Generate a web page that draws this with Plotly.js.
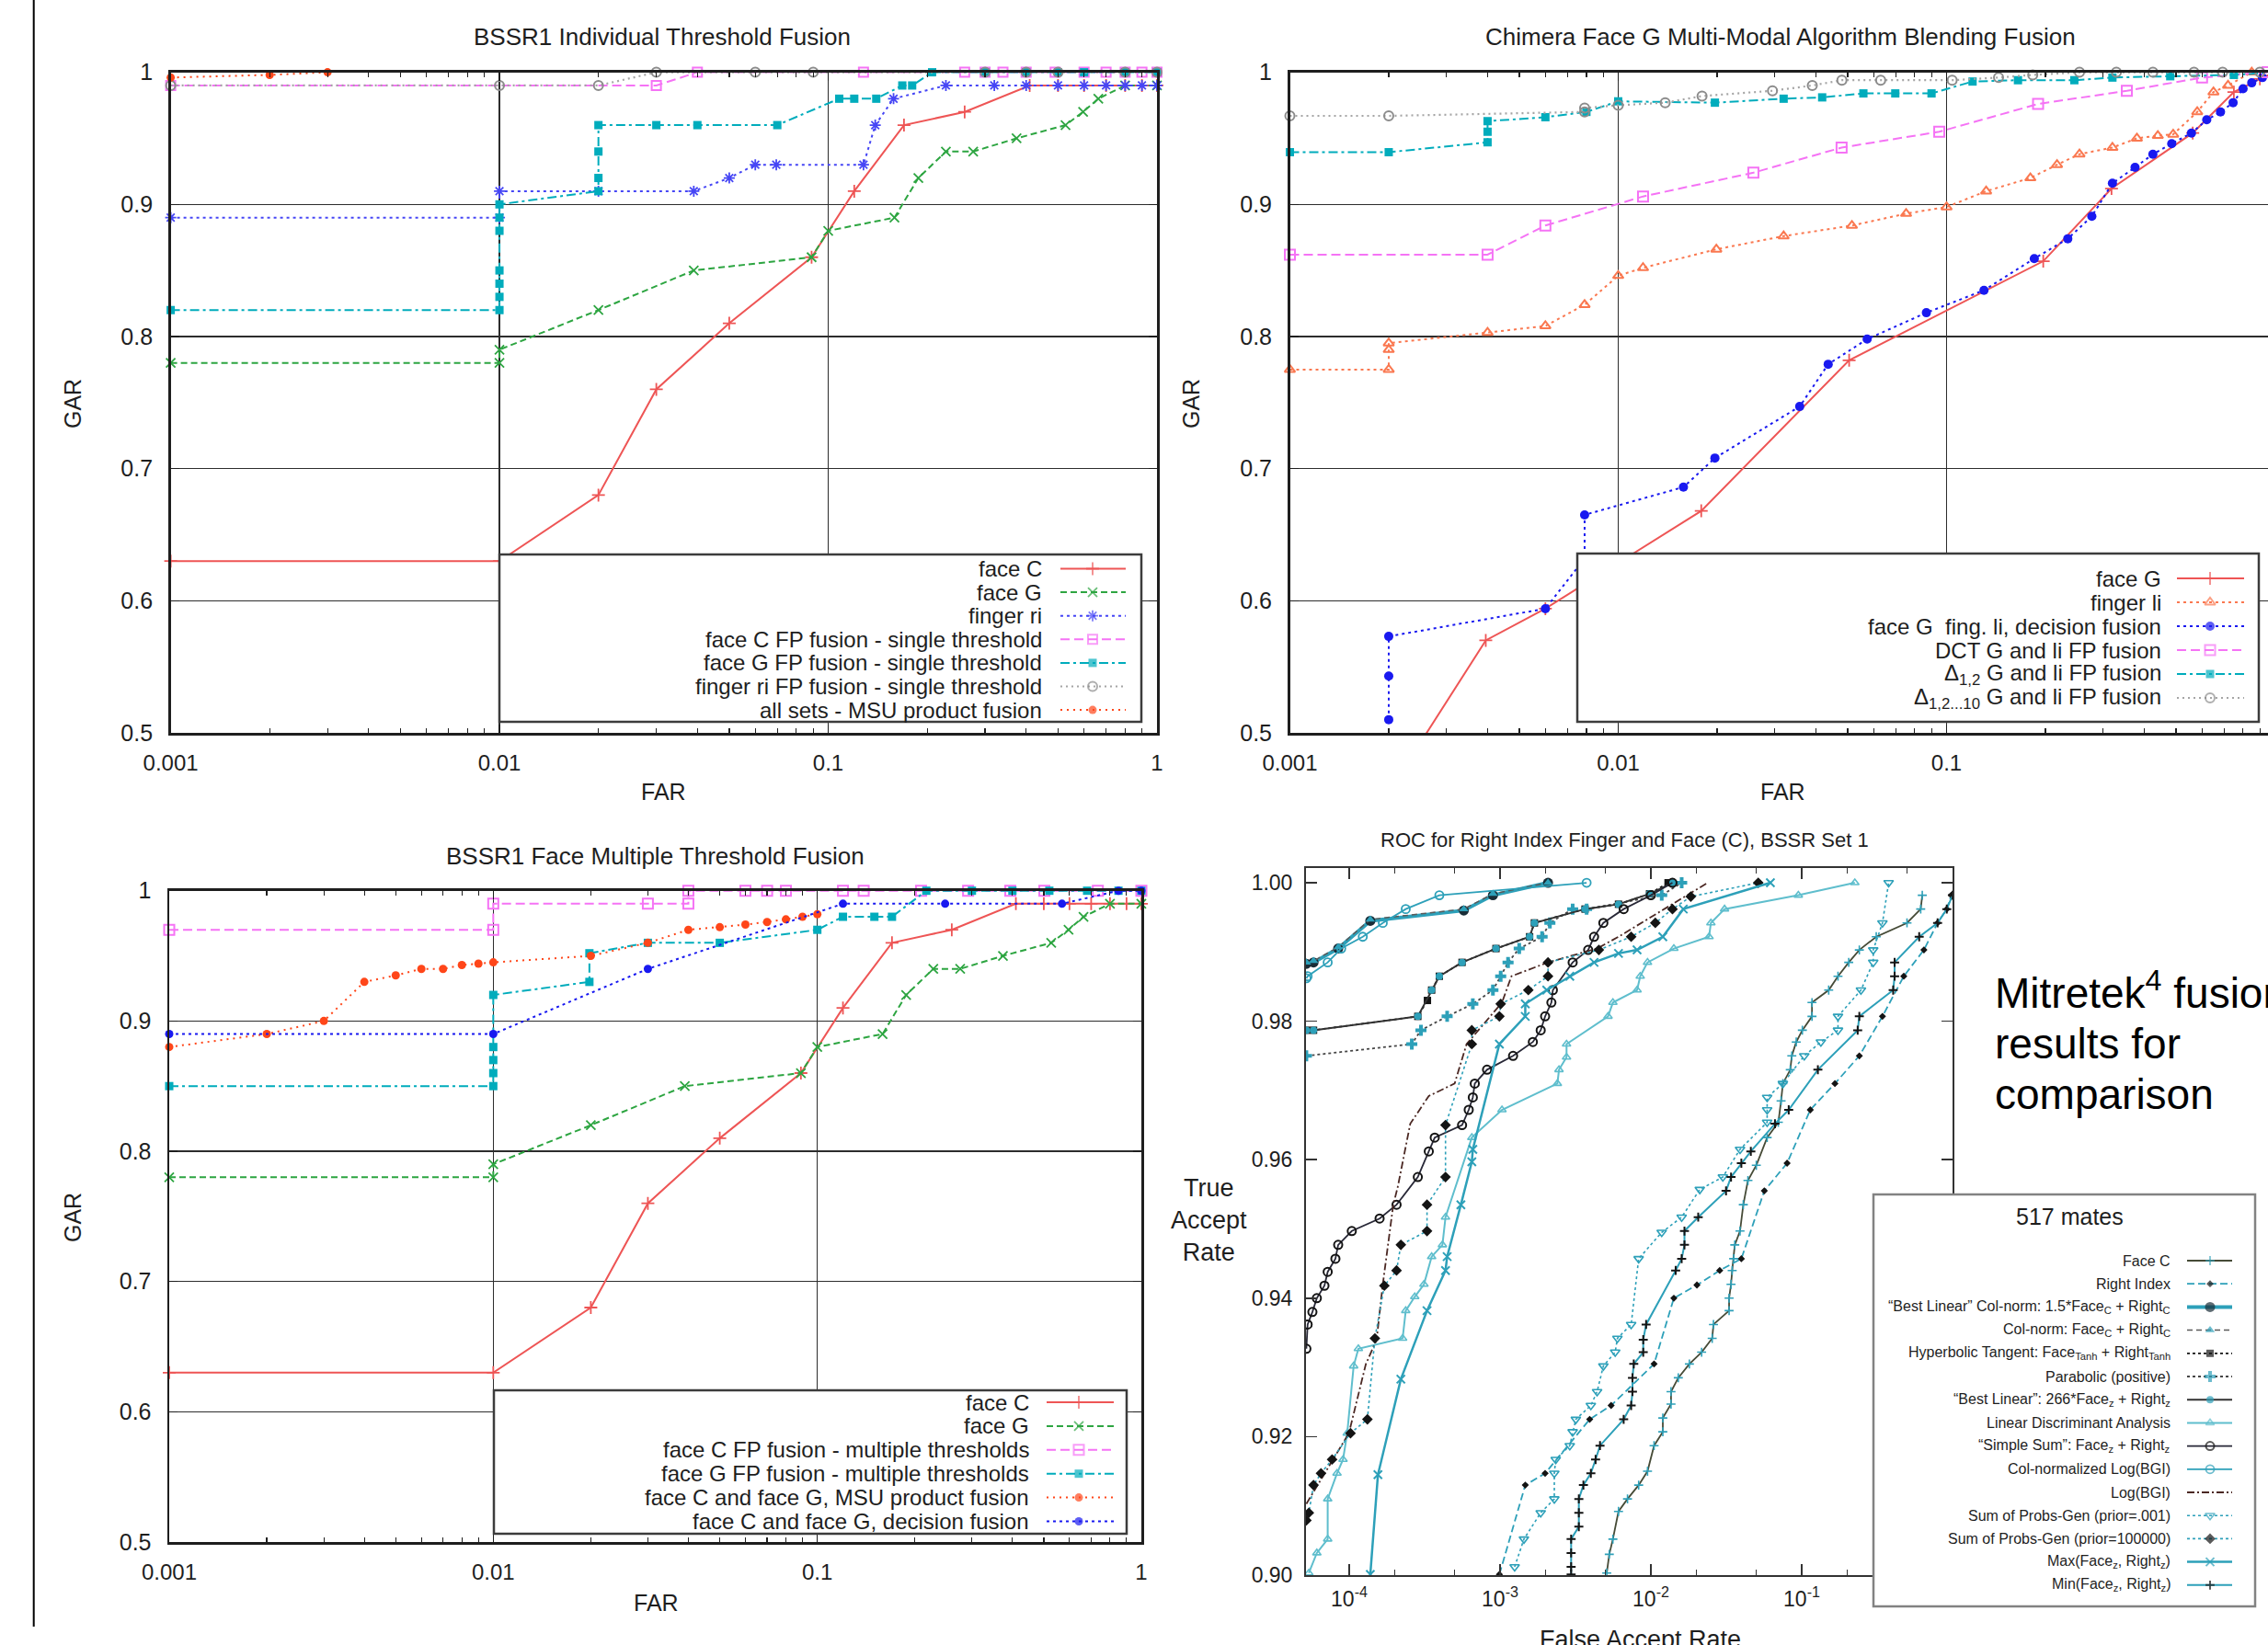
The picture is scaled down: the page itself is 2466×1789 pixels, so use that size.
<!DOCTYPE html>
<html><head><meta charset="utf-8">
<script src="https://cdn.plot.ly/plotly-3.0.1.min.js"></script>
<style>html,body{margin:0;padding:0;background:#fff}#chart{width:2466px;height:1789px}</style>
</head><body><div id="chart"></div>
<script>
// ================= DATA =================
// Shared BSSR1 single-modality curves (panels 1 and 3)
const faceC_far = [0.001, 0.01, 0.02, 0.03, 0.05, 0.089, 0.12, 0.17, 0.26, 0.41, 0.5, 0.6, 0.7, 0.8, 0.9, 1];
const faceC_gar = [0.63, 0.63, 0.68, 0.76, 0.81, 0.86, 0.91, 0.96, 0.97, 0.99, 0.99, 0.99, 0.99, 0.99, 0.99, 0.99];
const faceG_far = [0.001, 0.01, 0.01, 0.02, 0.039, 0.089, 0.1, 0.159, 0.188, 0.228, 0.276, 0.374, 0.527, 0.596, 0.663, 0.8, 1];
const faceG_gar = [0.78, 0.78, 0.79, 0.82, 0.85, 0.86, 0.88, 0.89, 0.92, 0.94, 0.94, 0.95, 0.96, 0.97, 0.98, 0.99, 0.99];

// Panel 1: BSSR1 Individual Threshold Fusion
const fingerRi_far = [0.001, 0.01, 0.01, 0.02, 0.039, 0.05, 0.06, 0.0695, 0.128, 0.139, 0.158, 0.228, 0.32, 0.4, 0.5, 0.6, 0.7, 0.8, 0.9, 1];
const fingerRi_gar = [0.89, 0.89, 0.91, 0.91, 0.91, 0.92, 0.93, 0.93, 0.93, 0.96, 0.98, 0.99, 0.99, 0.99, 0.99, 0.99, 0.99, 0.99, 0.99, 0.99];
const faceCFPs_far = [0.001, 0.03, 0.04, 0.128, 0.26, 0.3, 0.34, 0.4, 0.49, 0.6, 0.7, 0.8, 0.9, 1];
const faceCFPs_gar = [0.99, 0.99, 1, 1, 1, 1, 1, 1, 1, 1, 1, 1, 1, 1];
const faceGFPs_far = [0.001, 0.01, 0.01, 0.01, 0.01, 0.01, 0.01, 0.01, 0.02, 0.02, 0.02, 0.02, 0.03, 0.04, 0.07, 0.108, 0.12, 0.14, 0.168, 0.18, 0.207, 0.3, 0.4, 0.5, 0.6, 0.8, 1];
const faceGFPs_gar = [0.82, 0.82, 0.83, 0.84, 0.85, 0.88, 0.89, 0.90, 0.91, 0.92, 0.94, 0.96, 0.96, 0.96, 0.96, 0.98, 0.98, 0.98, 0.99, 0.99, 1, 1, 1, 1, 1, 1, 1];
const fingerRiFPs_far = [0.001, 0.01, 0.02, 0.03, 0.06, 0.09, 0.3, 0.4, 0.5, 0.8, 1];
const fingerRiFPs_gar = [0.99, 0.99, 0.99, 1, 1, 1, 1, 1, 1, 1, 1];
const msuAll_far = [0.001, 0.002, 0.003];
const msuAll_gar = [0.996, 0.998, 1.0];

// Panel 2: Chimera Face G Multi-Modal Algorithm Blending Fusion
const chFaceG_far = [0.002, 0.00395, 0.006, 0.0179, 0.0505, 0.197, 0.318, 0.562, 0.75, 0.9, 1];
const chFaceG_gar = [0.455, 0.57, 0.594, 0.668, 0.782, 0.857, 0.912, 0.954, 0.985, 0.995, 1.0];
const chFingerLi_far = [0.001, 0.002, 0.002, 0.002, 0.004, 0.006, 0.0079, 0.01, 0.0119, 0.0199, 0.0319, 0.0515, 0.0753, 0.1, 0.132, 0.18, 0.217, 0.254, 0.32, 0.38, 0.44, 0.49, 0.58, 0.65, 0.72, 0.85];
const chFingerLi_gar = [0.775, 0.775, 0.79, 0.795, 0.803, 0.808, 0.824, 0.846, 0.852, 0.866, 0.876, 0.884, 0.893, 0.898, 0.91, 0.92, 0.93, 0.938, 0.943, 0.95, 0.952, 0.953, 0.97, 0.985, 0.99, 1.0];
const chDecision_far = [0.002, 0.002, 0.002, 0.006, 0.0079, 0.0079, 0.0158, 0.0197, 0.0357, 0.0436, 0.0573, 0.0868, 0.13, 0.185, 0.234, 0.277, 0.32, 0.375, 0.425, 0.485, 0.557, 0.62, 0.683, 0.746, 0.8, 0.85, 0.916];
const chDecision_gar = [0.51, 0.543, 0.573, 0.594, 0.632, 0.665, 0.686, 0.708, 0.747, 0.779, 0.798, 0.818, 0.835, 0.859, 0.874, 0.891, 0.916, 0.928, 0.938, 0.946, 0.954, 0.964, 0.97, 0.977, 0.9875, 0.992, 0.996];
const chDCT_far = [0.001, 0.004, 0.006, 0.0119, 0.0258, 0.0479, 0.095, 0.19, 0.354, 0.6, 0.95];
const chDCT_gar = [0.862, 0.862, 0.884, 0.906, 0.924, 0.943, 0.955, 0.976, 0.986, 0.996, 1.0];
const chD12_far = [0.001, 0.002, 0.004, 0.004, 0.004, 0.006, 0.008, 0.01, 0.0197, 0.0319, 0.0418, 0.0558, 0.0698, 0.09, 0.12, 0.165, 0.245, 0.32, 0.48, 0.75, 1];
const chD12_gar = [0.9395, 0.9395, 0.947, 0.955, 0.963, 0.966, 0.97, 0.978, 0.977, 0.98, 0.981, 0.984, 0.984, 0.984, 0.993, 0.994, 0.994, 0.996, 0.997, 0.998, 1.0];
const chD1210_far = [0.001, 0.002, 0.0079, 0.0079, 0.01, 0.0139, 0.018, 0.0295, 0.039, 0.048, 0.063, 0.104, 0.144, 0.183, 0.254, 0.329, 0.425, 0.567, 0.693, 0.9];
const chD1210_gar = [0.967, 0.967, 0.97, 0.973, 0.975, 0.977, 0.982, 0.986, 0.99, 0.994, 0.994, 0.994, 0.996, 0.998, 1, 1, 1, 1, 1, 1];

// Panel 3: BSSR1 Face Multiple Threshold Fusion
const faceCFPm_far = [0.001, 0.01, 0.01, 0.03, 0.04, 0.04, 0.06, 0.07, 0.08, 0.12, 0.139, 0.209, 0.292, 0.394, 0.502, 0.734, 1];
const faceCFPm_gar = [0.97, 0.97, 0.99, 0.99, 0.99, 1, 1, 1, 1, 1, 1, 1, 1, 1, 1, 1, 1];
const faceGFPm_far = [0.001, 0.01, 0.01, 0.01, 0.01, 0.01, 0.0198, 0.0198, 0.03, 0.05, 0.1, 0.12, 0.15, 0.17, 0.217, 0.3, 0.4, 0.52, 0.68, 0.85, 1];
const faceGFPm_gar = [0.85, 0.85, 0.86, 0.87, 0.88, 0.92, 0.93, 0.952, 0.96, 0.96, 0.97, 0.98, 0.98, 0.98, 1, 1, 1, 1, 1, 1, 1];
const msuCG_far = [0.001, 0.002, 0.003, 0.004, 0.005, 0.006, 0.007, 0.008, 0.009, 0.01, 0.02, 0.03, 0.04, 0.05, 0.06, 0.07, 0.08, 0.09, 0.1];
const msuCG_gar = [0.88, 0.89, 0.90, 0.93, 0.935, 0.94, 0.94, 0.943, 0.944, 0.945, 0.95, 0.96, 0.97, 0.972, 0.974, 0.976, 0.978, 0.98, 0.982];
const decCG_far = [0.001, 0.01, 0.03, 0.12, 0.248, 0.569, 0.85, 1];
const decCG_gar = [0.89, 0.89, 0.94, 0.99, 0.99, 0.99, 1, 1];

// Panel 4: ROC for Right Index Finger and Face (C), BSSR Set 1 (Mitretek)
const mFaceC_far = [5.1e-3, 5.3e-3, 5.6e-3, 6.1e-3, 7.0e-3, 8.3e-3, 9.5e-3, 1.05e-2, 1.2e-2, 1.2e-2, 1.36e-2, 1.36e-2, 1.52e-2, 1.8e-2, 2.17e-2, 2.55e-2, 2.6e-2, 3.3e-2, 3.3e-2, 3.4e-2, 3.46e-2, 3.54e-2, 3.6e-2, 3.9e-2, 4.1e-2, 4.4e-2, 5.0e-2, 5.9e-2, 7.0e-2, 7.3e-2, 7.5e-2, 8.4e-2, 8.6e-2, 9.2e-2, 0.101, 0.117, 0.117, 0.151, 0.174, 0.205, 0.241, 0.312, 0.499, 0.615, 0.63];
const mFaceC_tar = [0.9003, 0.9030, 0.9052, 0.9092, 0.9110, 0.9130, 0.9150, 0.9187, 0.9207, 0.9227, 0.9247, 0.9265, 0.9285, 0.9305, 0.9322, 0.9342, 0.9362, 0.9382, 0.9400, 0.9420, 0.9440, 0.9457, 0.9477, 0.9497, 0.9535, 0.9570, 0.9592, 0.9632, 0.9654, 0.9685, 0.9710, 0.9730, 0.9750, 0.9770, 0.9787, 0.9807, 0.9827, 0.9845, 0.9865, 0.9885, 0.9903, 0.9922, 0.9942, 0.9962, 0.9982];
const mRight_far = [9.9e-4, 1.47e-3, 1.99e-3, 3.93e-3, 5.45e-3, 1.05e-2, 1.42e-2, 2.02e-2, 2.86e-2, 3.98e-2, 5.65e-2, 8.0e-2, 0.114, 0.166, 0.241, 0.343, 0.475, 0.646, 0.796, 0.916, 0.98];
const mRight_tar = [0.9001, 0.9130, 0.9147, 0.9225, 0.9245, 0.9305, 0.9400, 0.9419, 0.9440, 0.9457, 0.9555, 0.9595, 0.9672, 0.9710, 0.9750, 0.9807, 0.9865, 0.9903, 0.9942, 0.9962, 0.9982];
const mBestLinC_far = [5.2e-5, 5.8e-5, 8.45e-5, 1.38e-4, 5.75e-4, 8.97e-4, 2.08e-3];
const mBestLinC_tar = [0.9883, 0.9885, 0.9905, 0.9945, 0.9960, 0.9982, 1.0];
const mColNorm_far = [5.2e-5, 5.8e-5, 8.45e-5, 1.38e-4, 5.75e-4, 8.97e-4, 2.08e-3];
const mColNorm_tar = [0.9885, 0.9887, 0.9907, 0.9947, 0.9962, 0.9984, 1.0];
const mHyper_far = [5.2e-5, 5.8e-5, 2.85e-4, 3.3e-4, 3.52e-4, 3.96e-4, 5.6e-4, 9.4e-4, 1.57e-3, 1.69e-3, 3.66e-3, 6.1e-3, 9.8e-3, 1.3e-2];
const mHyper_tar = [0.9787, 0.9787, 0.9807, 0.9830, 0.9845, 0.9865, 0.9885, 0.9905, 0.9922, 0.9942, 0.9962, 0.9969, 0.9984, 1.0];
const mParab_far = [5.2e-5, 2.6e-4, 2.99e-4, 4.46e-4, 6.6e-4, 8.97e-4, 1.01e-3, 1.13e-3, 1.34e-3, 1.9e-3, 2.14e-3, 3.03e-3, 3.75e-3, 1.18e-2, 1.6e-2];
const mParab_tar = [0.9750, 0.9767, 0.9787, 0.9807, 0.9825, 0.9845, 0.9865, 0.9885, 0.9905, 0.9922, 0.9942, 0.9962, 0.9962, 0.9982, 1.0];
const mBL266_far = [5.2e-5, 5.8e-5, 2.85e-4, 3.52e-4, 3.96e-4, 5.6e-4, 9.4e-4, 1.57e-3, 1.69e-3, 3.66e-3, 6.1e-3, 9.8e-3, 1.39e-2];
const mBL266_tar = [0.9787, 0.9787, 0.9807, 0.9845, 0.9865, 0.9885, 0.9905, 0.9922, 0.9942, 0.9962, 0.9969, 0.9984, 1.0];
const mLDA_far = [5.4e-5, 6.1e-5, 7.2e-5, 7.2e-5, 8.3e-5, 9.1e-5, 9.7e-5, 1.07e-4, 1.15e-4, 2.26e-4, 2.37e-4, 2.72e-4, 3.13e-4, 3.52e-4, 4.15e-4, 4.35e-4, 6.5e-4, 1.03e-3, 2.4e-3, 2.46e-3, 2.76e-3, 2.76e-3, 5.2e-3, 5.6e-3, 8.1e-3, 8.5e-3, 9.5e-3, 1.42e-2, 2.43e-2, 2.5e-2, 3.08e-2, 9.5e-2, 0.225];
const mLDA_tar = [0.9003, 0.9032, 0.9052, 0.9110, 0.9147, 0.9167, 0.9205, 0.9302, 0.9327, 0.9342, 0.9382, 0.9402, 0.9420, 0.9460, 0.9477, 0.9517, 0.9632, 0.9672, 0.9710, 0.9730, 0.9748, 0.9767, 0.9807, 0.9827, 0.9845, 0.9865, 0.9885, 0.9905, 0.9922, 0.9942, 0.9962, 0.9982, 1.0];
const mSimple_far = [5.2e-5, 5.3e-5, 5.7e-5, 6.1e-5, 6.85e-5, 7.2e-5, 8.1e-5, 8.45e-5, 1.04e-4, 1.59e-4, 2.06e-4, 2.85e-4, 3.37e-4, 3.69e-4, 5.6e-4, 6.2e-4, 6.6e-4, 6.8e-4, 8.2e-4, 1.22e-3, 1.65e-3, 1.86e-3, 1.99e-3, 2.19e-3, 2.24e-3, 3.03e-3, 3.84e-3, 4.2e-3, 4.84e-3, 6.6e-3, 1.0e-2, 1.39e-2];
const mSimple_tar = [0.9327, 0.9362, 0.9380, 0.9400, 0.9418, 0.9438, 0.9457, 0.9477, 0.9497, 0.9515, 0.9535, 0.9575, 0.9612, 0.9632, 0.9650, 0.9672, 0.9690, 0.9710, 0.9730, 0.9750, 0.9770, 0.9787, 0.9807, 0.9827, 0.9845, 0.9885, 0.9903, 0.9922, 0.9942, 0.9962, 0.9982, 1.0];
const mColLog_far = [5.2e-5, 5.3e-5, 7.2e-5, 8.85e-5, 1.23e-4, 1.67e-4, 2.37e-4, 3.96e-4, 3.75e-3];
const mColLog_tar = [0.9862, 0.9865, 0.9885, 0.9905, 0.9922, 0.9942, 0.9962, 0.9982, 1.0];
const mLog_far = [5.2e-5, 9.95e-5, 1.29e-4, 1.52e-4, 1.67e-4, 1.96e-4, 2.1e-4, 2.54e-4, 3.37e-4, 5.0e-4, 6.0e-4, 1.03e-3, 1.19e-3, 2.08e-3, 4.4e-3, 6.1e-3, 2.38e-2];
const mLog_tar = [0.9103, 0.9205, 0.9305, 0.9340, 0.9420, 0.9535, 0.9561, 0.9652, 0.9692, 0.9710, 0.9767, 0.9827, 0.9865, 0.9885, 0.9905, 0.9922, 1.0];
const mSP001_far = [1.25e-3, 1.44e-3, 1.86e-3, 2.29e-3, 2.29e-3, 2.34e-3, 2.9e-3, 3.03e-3, 3.18e-3, 4.0e-3, 4.4e-3, 4.84e-3, 5.8e-3, 6.0e-3, 7.4e-3, 8.3e-3, 1.18e-2, 1.6e-2, 2.11e-2, 3.0e-2, 3.9e-2, 5.9e-2, 5.9e-2, 5.9e-2, 7.5e-2, 0.104, 0.134, 0.174, 0.174, 0.247, 0.298, 0.298, 0.343, 0.377];
const mSP001_tar = [0.9012, 0.9052, 0.9090, 0.9110, 0.9147, 0.9167, 0.9187, 0.9207, 0.9225, 0.9245, 0.9265, 0.9302, 0.9322, 0.9342, 0.9362, 0.9457, 0.9495, 0.9517, 0.9557, 0.9575, 0.9615, 0.9654, 0.9672, 0.9690, 0.9710, 0.9750, 0.9770, 0.9787, 0.9807, 0.9845, 0.9885, 0.9903, 0.9942, 1.0];
const mSP1e5_far = [5.2e-5, 5.4e-5, 5.8e-5, 6.5e-5, 7.7e-5, 1.02e-4, 1.32e-4, 1.48e-4, 1.71e-4, 2.06e-4, 2.2e-4, 3.28e-4, 3.28e-4, 4.35e-4, 4.35e-4, 6.5e-4, 6.5e-4, 9.9e-4, 1.01e-3, 1.54e-3, 2.08e-3, 2.08e-3, 4.52e-3, 7.4e-3, 1.07e-2, 1.39e-2, 1.84e-2, 5.15e-2];
const mSP1e5_tar = [0.9079, 0.9090, 0.9130, 0.9147, 0.9167, 0.9205, 0.9225, 0.9342, 0.9418, 0.9440, 0.9477, 0.9497, 0.9535, 0.9575, 0.9650, 0.9767, 0.9787, 0.9807, 0.9825, 0.9845, 0.9865, 0.9885, 0.9903, 0.9922, 0.9942, 0.9962, 0.9980, 1.0];
const mMax_far = [1.38e-4, 1.55e-4, 2.2e-4, 3.28e-4, 4.35e-4, 4.46e-4, 5.5e-4, 6.5e-4, 6.6e-4, 9.9e-4, 1.47e-3, 1.47e-3, 2.04e-3, 2.9e-3, 4.2e-3, 6.1e-3, 8.1e-3, 1.2e-2, 1.64e-2, 6.2e-2];
const mMax_tar = [0.9001, 0.9145, 0.9283, 0.9382, 0.9440, 0.9460, 0.9535, 0.9597, 0.9615, 0.9767, 0.9807, 0.9825, 0.9845, 0.9865, 0.9885, 0.9898, 0.9903, 0.9922, 0.9962, 1.0];
const mMin_far = [2.96e-3, 2.96e-3, 2.96e-3, 2.96e-3, 3.33e-3, 3.33e-3, 3.33e-3, 3.57e-3, 4.0e-3, 4.3e-3, 4.6e-3, 6.6e-3, 7.4e-3, 7.55e-3, 7.55e-3, 7.7e-3, 8.9e-3, 8.9e-3, 9.3e-3, 1.46e-2, 1.6e-2, 1.67e-2, 1.67e-2, 2.06e-2, 3.15e-2, 3.4e-2, 3.98e-2, 4.6e-2, 6.65e-2, 8.2e-2, 0.128, 0.235, 0.241, 0.404, 0.413, 0.413, 0.601, 0.796, 0.916, 1.0];
const mMin_tar = [0.9001, 0.9012, 0.9032, 0.9052, 0.9070, 0.9090, 0.9110, 0.9130, 0.9147, 0.9167, 0.9187, 0.9225, 0.9245, 0.9265, 0.9285, 0.9305, 0.9322, 0.9340, 0.9362, 0.9440, 0.9457, 0.9477, 0.9497, 0.9517, 0.9555, 0.9575, 0.9595, 0.9612, 0.9652, 0.9672, 0.9730, 0.9787, 0.9807, 0.9845, 0.9865, 0.9885, 0.9922, 0.9942, 0.9962, 0.9982];

// Tick labels
const FAR_TICKS = [0.001, 0.01, 0.1, 1];
const GAR_TICKS = [0.5, 0.6, 0.7, 0.8, 0.9, 1];
const ROC_X_TICKS = [1e-4, 1e-3, 1e-2, 1e-1];
const ROC_X_TEXT = ['10<sup>-4</sup>', '10<sup>-3</sup>', '10<sup>-2</sup>', '10<sup>-1</sup>'];
const ROC_Y_TICKS = [0.90, 0.92, 0.94, 0.96, 0.98, 1.00];

// ================= STYLE / LAYOUT =================
const W = 2466, H = 1789;
const FONT = '"Liberation Sans", Arial, Helvetica, sans-serif';
const INK = '#1e1e1e';

function S(lc, dash, lw, sym, ms, mc, mlw) {
  const st = {line: {color: lc, dash: dash || 'solid', width: lw}};
  if (sym) st.marker = {symbol: sym, size: ms, color: mc || lc, line: {color: mc || lc, width: mlw === undefined ? 1.5 : mlw}};
  return st;
}
const RED = 'rgb(238,85,85)', GREEN = 'rgb(45,165,65)', BLUE = 'rgb(70,70,245)', MAG = 'rgb(245,115,245)',
      CYAN = 'rgb(0,172,188)', GRAY = 'rgb(165,165,165)', ORNG = 'rgb(255,70,25)', ORNG2 = 'rgb(250,120,80)',
      BLUE2 = 'rgb(25,25,240)', TEAL = 'rgb(45,160,185)', LTEAL = 'rgb(95,190,205)', BLK = 'rgb(20,20,20)';

const stFaceC = S(RED, 'solid', 2, 'cross-thin', 10, RED, 1.8);
const stFaceG = S(GREEN, '7px,4px', 2, 'x-thin', 10, GREEN, 1.8);

const P1 = [
  {label: 'face C', x: faceC_far, y: faceC_gar, st: stFaceC},
  {label: 'face G', x: faceG_far, y: faceG_gar, st: stFaceG},
  {label: 'finger ri', x: fingerRi_far, y: fingerRi_gar, st: S(BLUE, '3px,4px', 2, 'asterisk-open', 10, BLUE, 1.8)},
  {label: 'face C FP fusion - single threshold', x: faceCFPs_far, y: faceCFPs_gar, st: S(MAG, '10px,5px', 2, 'square-open', 10, MAG, 2)},
  {label: 'face G FP fusion - single threshold', x: faceGFPs_far, y: faceGFPs_gar, st: S(CYAN, '10px,4px,3px,4px', 2, 'square', 9, CYAN, 0)},
  {label: 'finger ri FP fusion - single threshold', x: fingerRiFPs_far, y: fingerRiFPs_gar, st: S(GRAY, '2px,4px', 2.2, 'circle-open', 10, 'rgb(140,140,140)', 2)},
  {label: 'all sets - MSU product fusion', x: msuAll_far, y: msuAll_gar, st: S(ORNG, '2px,5px', 2, 'circle', 9, ORNG, 0)}
];
const P2 = [
  {label: 'face G', x: chFaceG_far, y: chFaceG_gar, st: stFaceC, clip: true},
  {label: 'finger li', x: chFingerLi_far, y: chFingerLi_gar, st: S(ORNG2, '3px,4px', 2, 'triangle-up-open', 10, ORNG2, 2)},
  {label: 'face G  fing. li, decision fusion', x: chDecision_far, y: chDecision_gar, st: S(BLUE2, '3px,4px', 2, 'circle', 10, BLUE2, 0)},
  {label: 'DCT G and li FP fusion', x: chDCT_far, y: chDCT_gar, st: S(MAG, '10px,5px', 2, 'square-open', 11, MAG, 2)},
  {label: 'Δ<sub>1,2</sub> G and li FP fusion', x: chD12_far, y: chD12_gar, st: S(CYAN, '10px,4px,3px,4px', 2, 'square', 9, CYAN, 0)},
  {label: 'Δ<sub>1,2...10</sub> G and li FP fusion', x: chD1210_far, y: chD1210_gar, st: S(GRAY, '2px,4px', 2.2, 'circle-open', 10, 'rgb(140,140,140)', 2)}
];
const P3 = [
  {label: 'face C', x: faceC_far, y: faceC_gar, st: stFaceC},
  {label: 'face G', x: faceG_far, y: faceG_gar, st: stFaceG},
  {label: 'face C FP fusion - multiple thresholds', x: faceCFPm_far, y: faceCFPm_gar, st: S(MAG, '10px,5px', 2, 'square-open', 11, MAG, 2)},
  {label: 'face G FP fusion - multiple thresholds', x: faceGFPm_far, y: faceGFPm_gar, st: S(CYAN, '10px,4px,3px,4px', 2, 'square', 9, CYAN, 0)},
  {label: 'face C and face G, MSU product fusion', x: msuCG_far, y: msuCG_gar, st: S(ORNG, '2px,5px', 2, 'circle', 9, ORNG, 0)},
  {label: 'face C and face G, decision fusion', x: decCG_far, y: decCG_gar, st: S(BLUE2, '3px,4px', 2, 'circle', 9, BLUE2, 0)}
];
const P4 = [
  {label: 'Face C', x: mFaceC_far, y: mFaceC_tar, st: S('rgb(70,75,55)', 'solid', 1.8, 'cross-thin', 7, TEAL, 1.6)},
  {label: 'Right Index', x: mRight_far, y: mRight_tar, st: S(TEAL, '8px,4px', 1.8, 'diamond', 6, BLK, 0)},
  {label: '“Best Linear” Col-norm: 1.5*Face<sub>C</sub> + Right<sub>C</sub>', x: mBestLinC_far, y: mBestLinC_tar, st: S(TEAL, 'solid', 4, 'circle', 11, 'rgb(25,45,55)', 0)},
  {label: 'Col-norm: Face<sub>C</sub> + Right<sub>C</sub>', x: mColNorm_far, y: mColNorm_tar, st: S('rgb(90,90,90)', '6px,4px', 1.5, 'triangle-up', 9, TEAL, 0)},
  {label: 'Hyperbolic Tangent: Face<sub>Tanh</sub> + Right<sub>Tanh</sub>', x: mHyper_far, y: mHyper_tar, st: S(BLK, '3px,3px', 1.8, 'square', 8, BLK, 0)},
  {label: 'Parabolic (positive)', x: mParab_far, y: mParab_tar, st: S('rgb(70,70,70)', '3px,3px', 1.8, 'cross', 10, TEAL, 0)},
  {label: '“Best Linear”: 266*Face<sub>z</sub> + Right<sub>z</sub>', x: mBL266_far, y: mBL266_tar, st: S('rgb(50,50,50)', 'solid', 2, 'circle', 8, TEAL, 0)},
  {label: 'Linear Discriminant Analysis', x: mLDA_far, y: mLDA_tar, st: S(LTEAL, 'solid', 2, 'triangle-up-open', 8, LTEAL, 1.6)},
  {label: '“Simple Sum”: Face<sub>z</sub> + Right<sub>z</sub>', x: mSimple_far, y: mSimple_tar, st: S('rgb(40,40,55)', 'solid', 1.8, 'circle-open', 9, BLK, 2)},
  {label: 'Col-normalized Log(BGI)', x: mColLog_far, y: mColLog_tar, st: S(TEAL, 'solid', 1.8, 'circle-open', 9, TEAL, 1.8)},
  {label: 'Log(BGI)', x: mLog_far, y: mLog_tar, st: S('rgb(75,40,35)', '8px,3px,2px,3px', 1.8)},
  {label: 'Sum of Probs-Gen (prior=.001)', x: mSP001_far, y: mSP001_tar, st: S(TEAL, '3px,3px', 1.6, 'triangle-down-open', 9, TEAL, 1.6)},
  {label: 'Sum of Probs-Gen (prior=100000)', x: mSP1e5_far, y: mSP1e5_tar, st: S(TEAL, '3px,3px', 1.6, 'diamond', 9, BLK, 0)},
  {label: 'Max(Face<sub>z</sub>, Right<sub>z</sub>)', x: mMax_far, y: mMax_tar, st: S(TEAL, 'solid', 2.5, 'x-thin', 9, TEAL, 2)},
  {label: 'Min(Face<sub>z</sub>, Right<sub>z</sub>)', x: mMin_far, y: mMin_tar, st: S(TEAL, 'solid', 2, 'cross-thin', 7, BLK, 2)}
];

const traces = [];
function addTrace(it, ax, clip) {
  const t = {type: 'scatter', x: it.x, y: it.y, xaxis: 'x' + ax, yaxis: 'y' + ax,
    mode: it.st.marker ? 'lines+markers' : 'lines', line: it.st.line, showlegend: false,
    hoverinfo: 'skip', cliponaxis: clip};
  if (it.st.marker) t.marker = it.st.marker;
  traces.push(t);
}
P1.forEach(it => addTrace(it, '', false));
P2.forEach(it => addTrace(it, '2', !!it.clip));
P3.forEach(it => addTrace(it, '3', false));
P4.forEach(it => addTrace(it, '4', true));

// Legends drawn on a full-figure overlay (pixel coordinates)
const LEGENDS = [
  {items: P1, box: [543, 603, 1241, 785], tx: 1135, kx: [1153, 1188, 1224], y0: 618.5, dy: 25.6, fs: 24, border: 'rgb(60,60,60)'},
  {items: P2, box: [1715, 602, 2456, 785], tx: 2352, kx: [2367, 2403, 2440], y0: 629, dy: 26, fs: 24, border: 'rgb(60,60,60)'},
  {items: P3, box: [537, 1512, 1225, 1668], tx: 1121, kx: [1138, 1173, 1211], y0: 1525, dy: 25.9, fs: 24, border: 'rgb(60,60,60)'},
  {items: P4, box: [2037, 1299, 2452, 1747], tx: 2362, kx: [2378, 2403, 2427], y0: 1371, dy: 25.2, fs: 16, border: 'rgb(130,130,130)'}
];
const shapes = [];
const annotations = [];
LEGENDS.forEach(L => {
  shapes.push({type: 'rect', xref: 'x5', yref: 'y5', layer: 'below', x0: L.box[0], y0: L.box[1], x1: L.box[2], y1: L.box[3],
    fillcolor: '#ffffff', line: {color: L.border, width: 2.5}});
  L.items.forEach((it, i) => {
    const yy = L.y0 + i * L.dy;
    annotations.push({xref: 'x5', yref: 'y5', x: L.tx, y: yy, xanchor: 'right', yanchor: 'middle', showarrow: false,
      text: it.label, font: {family: FONT, size: L.fs, color: INK}});
    const t = {type: 'scatter', x: L.kx, y: [yy, yy, yy], xaxis: 'x5', yaxis: 'y5', showlegend: false, hoverinfo: 'skip',
      mode: it.st.marker ? 'lines+markers' : 'lines', line: it.st.line, cliponaxis: false};
    if (it.st.marker) t.marker = Object.assign({}, it.st.marker, {size: [0, it.st.marker.size, 0]});
    traces.push(t);
  });
});

// Heavier grey reference lines at GAR 0.9 and 0.6 (panels 1-3)
[['', 0], ['2', -0.021], ['3', 0]].forEach(([ax, xr]) => {
  [0.9, 0.6].forEach(g => shapes.push({type: 'line', xref: 'x' + ax, yref: 'y' + ax, layer: 'between',
    x0: -3, x1: xr, y0: g, y1: g, line: {color: 'rgb(145,145,145)', width: 4}}));
});
// page margin rule at left
shapes.push({type: 'line', xref: 'paper', yref: 'paper', x0: 36.7 / W, x1: 36.7 / W, y0: 1, y1: 1 - 1769 / H, line: {color: '#000', width: 2}});

function farAxis(px0, px1, rng, anchor) {
  const vals = FAR_TICKS.filter(v => Math.log10(v) <= rng[1] + 1e-9);
  return {domain: [px0 / W, px1 / W], type: 'log', range: rng, anchor: anchor, tickmode: 'array', tickvals: vals,
    ticktext: vals.map(String), ticks: 'inside', ticklen: 9, tickwidth: 1.5, tickcolor: INK, showline: true,
    linecolor: INK, linewidth: 2.5, mirror: 'ticks', showgrid: true, gridcolor: 'rgb(45,45,45)', gridwidth: 1.5,
    zeroline: false, tickfont: {family: FONT, size: 24, color: INK}, ticklabelstandoff: 10,
    minor: {ticks: 'inside', ticklen: 5, tickwidth: 1.2, tickcolor: INK, dtick: 'D1', showgrid: false}, fixedrange: true};
}
function garAxis(top, bottom, anchor, mirror) {
  return {domain: [1 - bottom / H, 1 - top / H], range: [0.5, 1], anchor: anchor, tickmode: 'array', tickvals: GAR_TICKS,
    ticktext: GAR_TICKS.map(String), ticks: 'inside', ticklen: 9, tickwidth: 1.5, tickcolor: INK, showline: true,
    linecolor: INK, linewidth: 2.5, mirror: mirror, showgrid: true, gridcolor: 'rgb(45,45,45)', gridwidth: 1.5,
    zeroline: false, tickfont: {family: FONT, size: 25, color: INK}, ticklabelstandoff: 12, fixedrange: true};
}

function ann(x, y, text, size, extra) {
  annotations.push(Object.assign({xref: 'x5', yref: 'y5', x: x, y: y, text: text, showarrow: false,
    xanchor: 'center', yanchor: 'middle', font: {family: FONT, size: size, color: INK}}, extra || {}));
}
ann(720, 40, 'BSSR1 Individual Threshold Fusion', 26);
ann(1936, 40, 'Chimera Face G Multi-Modal Algorithm Blending Fusion', 26);
ann(712, 931, 'BSSR1 Face Multiple Threshold Fusion', 26);
ann(1766, 913, 'ROC for Right Index Finger and Face (C), BSSR Set 1', 22);
ann(79, 439, 'GAR', 25, {textangle: -90});
ann(1295, 439, 'GAR', 25, {textangle: -90});
ann(79, 1324, 'GAR', 25, {textangle: -90});
ann(721, 861, 'FAR', 25);
ann(1938, 861, 'FAR', 25);
ann(713, 1743, 'FAR', 25);
ann(1314, 1327, 'True<br>Accept<br>Rate', 27, {align: 'center'});
ann(1783, 1783, 'False Accept Rate', 27);
ann(2250, 1323, '517 mates', 25);
ann(2167, 1077, 'Mitretek<sup>4</sup> fusion', 46, {xanchor: 'left', font: {family: FONT, size: 46, color: '#000'}});
ann(2167, 1135, 'results for', 46, {xanchor: 'left', font: {family: FONT, size: 46, color: '#000'}});
ann(2167, 1190, 'comparison', 46, {xanchor: 'left', font: {family: FONT, size: 46, color: '#000'}});

const layout = {
  width: W, height: H, margin: {l: 0, r: 0, t: 0, b: 0, pad: 0},
  paper_bgcolor: '#ffffff', plot_bgcolor: 'rgba(255,255,255,0)', showlegend: false,
  xaxis: farAxis(185.6, 1258, [-3, 0], 'y'),
  yaxis: garAxis(78.6, 797, 'x', 'ticks'),
  xaxis2: farAxis(1402.5, 2466, [-3, -0.021], 'y2'),
  yaxis2: garAxis(78.6, 797, 'x2', false),
  xaxis3: farAxis(184, 1241, [-3, 0], 'y3'),
  yaxis3: garAxis(968.7, 1677, 'x3', 'ticks'),
  xaxis4: {domain: [1420 / W, 2123 / W], type: 'log', range: [-4.2866, 0], anchor: 'y4', tickmode: 'array',
    tickvals: ROC_X_TICKS, ticktext: ROC_X_TEXT, ticks: 'inside', ticklen: 12, tickwidth: 1.5, tickcolor: '#333',
    showline: true, linecolor: '#333', linewidth: 2, mirror: 'ticks', showgrid: false, zeroline: false,
    tickfont: {family: FONT, size: 23, color: INK}, ticklabelstandoff: 4,
    minor: {ticks: 'inside', ticklen: 6, tickwidth: 1.2, tickcolor: '#333', dtick: 'D2', showgrid: false}, fixedrange: true},
  yaxis4: {domain: [1 - 1713 / H, 1 - 944 / H], range: [0.9, 1.00213], anchor: 'x4', tickmode: 'array',
    tickvals: ROC_Y_TICKS, ticktext: ROC_Y_TICKS.map(v => v.toFixed(2)), ticks: 'inside', ticklen: 12, tickwidth: 1.5,
    tickcolor: '#333', showline: true, linecolor: '#333', linewidth: 2, mirror: 'ticks', showgrid: false, zeroline: false,
    tickfont: {family: FONT, size: 23, color: INK}, ticklabelstandoff: 8, fixedrange: true},
  xaxis5: {domain: [0, 1], range: [0, W], anchor: 'y5', visible: false, fixedrange: true},
  yaxis5: {domain: [0, 1], range: [H, 0], anchor: 'x5', visible: false, fixedrange: true},
  shapes: shapes, annotations: annotations
};

Plotly.newPlot('chart', traces, layout, {staticPlot: true, displayModeBar: false});
</script></body></html>
